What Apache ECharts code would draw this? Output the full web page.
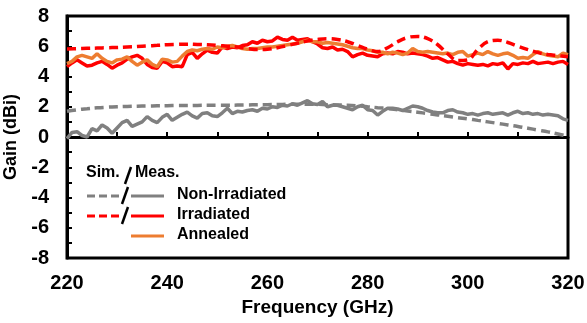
<!DOCTYPE html>
<html><head><meta charset="utf-8">
<script src="https://cdn.jsdelivr.net/npm/echarts@6/dist/echarts.min.js"></script>
<style>html,body{margin:0;padding:0;background:#fff}#c{width:587px;height:323px}</style>
</head><body><div id="c"></div>
<script>
const measFreq = [220,221,222,223,224,225,226,227,228,229,230,231,232,233,234,235,236,237,238,239,240,241,242,243,244,245,246,247,248,249,250,251,252,253,254,255,256,257,258,259,260,261,262,263,264,265,266,267,268,269,270,271,272,273,274,275,276,277,278,279,280,281,282,283,284,285,286,287,288,289,290,291,292,293,294,295,296,297,298,299,300,301,302,303,304,305,306,307,308,309,310,311,312,313,314,315,316,317,318,319,320];
const measIrradiated = [4.65,4.9,5.1,4.9,4.7,4.75,4.9,5.0,4.8,4.55,4.75,4.9,5.15,5.3,5.4,5.2,4.8,4.6,4.55,5.0,4.9,4.65,4.7,4.65,5.45,5.6,5.2,5.5,5.75,5.6,5.55,5.95,5.85,5.95,5.9,6.05,6.1,6.3,6.2,6.4,6.3,6.35,6.6,6.45,6.4,6.6,6.4,6.45,6.5,6.3,6.15,5.9,5.85,5.95,5.75,5.8,5.65,5.3,5.45,5.55,5.4,5.35,5.3,5.5,5.55,5.5,5.65,5.6,5.5,5.55,5.5,5.45,5.35,5.2,5.25,5.1,4.95,5.0,4.85,4.75,4.85,4.8,4.75,4.8,4.7,4.85,4.8,4.9,4.5,4.85,4.8,4.9,4.85,5.0,4.85,4.9,4.95,4.85,4.95,5.0,4.8];
const measAnnealed = [4.85,5.0,5.3,5.4,5.3,5.2,5.5,5.2,5.0,4.9,5.1,5.15,5.3,5.0,4.75,4.95,5.1,4.8,4.65,5.15,5.1,4.95,5.0,5.35,5.65,5.75,5.7,5.8,5.85,5.8,5.95,5.9,6.0,6.05,5.95,5.85,5.8,5.85,5.85,5.9,5.95,5.95,6.0,6.05,6.1,6.15,6.2,6.3,6.4,6.3,6.3,6.2,6.25,6.2,6.15,6.1,6.0,5.9,5.85,5.85,5.75,5.7,5.6,5.6,5.5,5.6,5.55,5.45,5.55,5.85,5.65,5.6,5.65,5.6,5.55,5.5,5.55,5.45,5.6,5.65,5.35,5.45,5.55,5.45,5.65,5.5,5.4,5.5,5.55,5.4,5.2,5.25,5.2,5.45,5.65,5.5,5.4,5.35,5.3,5.55,5.45];
const measNonIrradiated = [-0.1,0.3,0.35,0.1,0.0,0.55,0.4,0.8,0.6,0.25,0.6,0.95,1.1,0.7,0.85,1.0,1.35,1.1,0.95,1.3,1.5,1.1,1.3,1.5,1.65,1.4,1.25,1.55,1.6,1.4,1.35,1.6,1.9,1.55,1.7,1.65,1.75,1.8,1.7,1.9,1.85,2.0,1.95,2.1,2.05,2.2,2.1,2.25,2.4,2.2,2.15,2.35,2.0,2.1,2.1,2.0,1.9,1.8,2.0,2.1,1.8,1.75,1.45,1.7,1.9,1.9,1.85,1.75,1.9,2.05,2.0,1.9,1.75,1.65,1.6,1.6,1.75,1.8,1.65,1.6,1.5,1.55,1.45,1.55,1.6,1.5,1.55,1.6,1.45,1.6,1.7,1.55,1.6,1.5,1.55,1.45,1.5,1.45,1.4,1.2,1.1];

const simFreq = [220,222,224,226,228,230,232,234,236,238,240,242,244,246,248,250,252,254,256,258,260,262,264,266,268,270,272,274,276,278,280,282,284,286,288,290,292,294,296,298,300,302,304,306,308,310,312,314,316,318,320];
const simNonIrradiated = [1.7,1.8,1.87,1.93,1.97,2.0,2.02,2.04,2.05,2.06,2.07,2.08,2.08,2.09,2.1,2.1,2.1,2.11,2.12,2.13,2.14,2.15,2.16,2.17,2.17,2.16,2.14,2.12,2.1,2.06,2.0,1.94,1.88,1.8,1.72,1.64,1.55,1.46,1.37,1.28,1.2,1.1,1.0,0.9,0.8,0.7,0.58,0.46,0.34,0.2,0.05];
const simIrradiated = [5.82,5.84,5.86,5.88,5.9,5.92,5.95,5.98,6.02,6.06,6.1,6.12,6.14,6.12,6.1,6.06,6.0,5.95,5.85,5.78,5.8,5.9,6.05,6.2,6.35,6.45,6.5,6.45,6.3,6.05,5.8,5.65,5.9,6.3,6.58,6.65,6.5,6.1,5.5,5.05,5.1,5.8,6.3,6.4,6.25,6.0,5.78,5.58,5.45,5.38,5.3];

const xTickLabels = [220,240,260,280,300,320];
const yTickLabels = [8,6,4,2,0,-2,-4,-6,-8];

const GREY = '#808080', RED = '#ff0000', ORANGE = '#ed7d31';
const FONT = '"Liberation Sans", Arial, sans-serif';

function pairs(xs, ys){ return xs.map((x,i)=>[x, ys[i]]); }

const chart = echarts.init(document.getElementById('c'), null, {renderer:'canvas'});
const lineSeries = (name, xs, ys, color, dashed) => ({
  name, type:'line', data: pairs(xs, ys), showSymbol:false, symbol:'none',
  smooth: dashed ? 0.4 : false,
  lineStyle:{color, width: 3.5, type: dashed ? [9,5] : 'solid'},
  itemStyle:{color}, animation:false, z: 2
});

const legX = 86, legY = 174;
chart.setOption({
  animation:false,
  grid:{left:67, right:19, top:16, bottom:65, containLabel:false, outerBoundsMode:'none',
    show:true, borderColor:'#000', borderWidth:3, backgroundColor:'transparent'},
  xAxis:{
    type:'value', min:220, max:320, interval:10,
    name:'Frequency (GHz)', nameLocation:'middle', nameGap:40,
    nameTextStyle:{fontFamily:FONT, fontWeight:'bold', fontSize:19, color:'#000'},
    axisLine:{show:true, lineStyle:{color:'#000', width:3}},
    axisTick:{show:true, inside:true, length:5, lineStyle:{color:'#000', width:2}},
    splitLine:{show:false},
    axisLabel:{fontFamily:FONT, fontWeight:'bold', fontSize:20, color:'#000', margin:15,
      formatter: v => xTickLabels.indexOf(v) >= 0 ? String(v) : ''}
  },
  yAxis:{
    type:'value', min:-8, max:8, interval:1,
    name:'Gain (dBi)', nameLocation:'middle', nameGap:42, nameRotate:90,
    nameTextStyle:{fontFamily:FONT, fontWeight:'bold', fontSize:18, color:'#000'},
    axisLine:{show:true, lineStyle:{color:'#000', width:3}},
    axisTick:{show:true, inside:true, length:5, lineStyle:{color:'#000', width:2}},
    splitLine:{show:false},
    axisLabel:{fontFamily:FONT, fontWeight:'bold', fontSize:20, color:'#000', margin:18,
      formatter: v => yTickLabels.indexOf(v) >= 0 ? String(v) : ''}
  },
  series:[
    lineSeries('Meas. Non-Irradiated', measFreq, measNonIrradiated, GREY, false),
    lineSeries('Sim. Non-Irradiated', simFreq, simNonIrradiated, GREY, true),
    lineSeries('Meas. Irradiated', measFreq, measIrradiated, RED, false),
    lineSeries('Meas. Annealed', measFreq, measAnnealed, ORANGE, false),
    lineSeries('Sim. Irradiated', simFreq, simIrradiated, RED, true)
  ],
  graphic:[
    {type:'text', left:legX, top:legY-9, style:{text:'Sim.', font:'bold 16px '+FONT, fill:'#000'}},
    {type:'line', shape:{x1:125, y1:184, x2:131, y2:167}, style:{stroke:'#000', lineWidth:2.5}},
    {type:'text', left:135, top:legY-9, style:{text:'Meas.', font:'bold 16px '+FONT, fill:'#000'}},

    {type:'line', shape:{x1:87, y1:196, x2:120, y2:196}, style:{stroke:GREY, lineWidth:3, lineDash:[8,4]}},
    {type:'line', shape:{x1:122, y1:204, x2:128, y2:187}, style:{stroke:'#000', lineWidth:2.5}},
    {type:'line', shape:{x1:131, y1:196, x2:164, y2:196}, style:{stroke:GREY, lineWidth:3}},
    {type:'text', left:177, top:187, style:{text:'Non-Irradiated', font:'bold 16px '+FONT, fill:'#000'}},

    {type:'line', shape:{x1:87, y1:216, x2:120, y2:216}, style:{stroke:RED, lineWidth:3, lineDash:[8,4]}},
    {type:'line', shape:{x1:122, y1:224, x2:128, y2:207}, style:{stroke:'#000', lineWidth:2.5}},
    {type:'line', shape:{x1:131, y1:216, x2:164, y2:216}, style:{stroke:RED, lineWidth:3}},
    {type:'text', left:177, top:207, style:{text:'Irradiated', font:'bold 16px '+FONT, fill:'#000'}},

    {type:'line', shape:{x1:131, y1:236, x2:164, y2:236}, style:{stroke:ORANGE, lineWidth:3}},
    {type:'text', left:177, top:227, style:{text:'Annealed', font:'bold 16px '+FONT, fill:'#000'}}
  ]
});
</script></body></html>
